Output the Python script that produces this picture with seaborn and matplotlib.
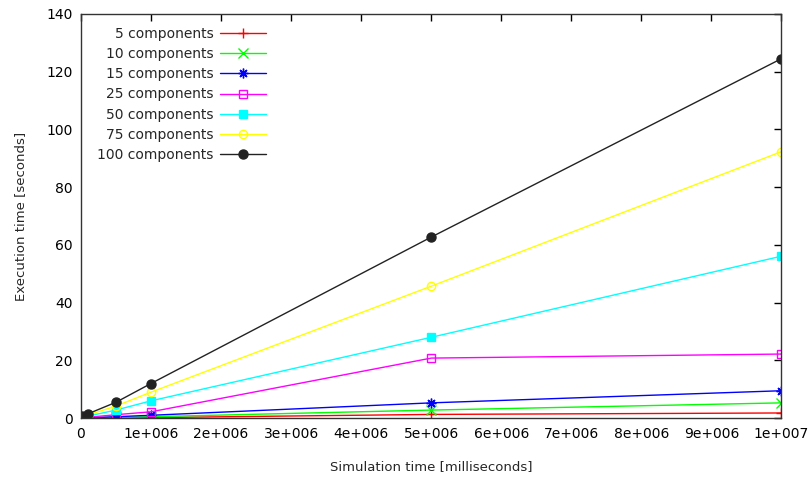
import matplotlib
matplotlib.use("Agg")
import matplotlib.pyplot as plt
import seaborn as sns
import pandas as pd
from matplotlib.ticker import FixedLocator

sim_time = [1e4, 1e5, 5e5, 1e6, 5e6, 1e7]
comp5 = [0.05, 0.05, 0.1, 0.2, 1.3, 1.8]
comp10 = [0.1, 0.1, 0.3, 0.5, 2.8, 5.3]
comp15 = [0.1, 0.15, 0.5, 1.0, 5.3, 9.5]
comp25 = [0.2, 0.3, 1.2, 2.2, 20.8, 22.2]
comp50 = [0.3, 0.7, 2.8, 6.0, 28.0, 56.1]
comp75 = [0.4, 1.1, 4.2, 9.0, 45.7, 92.3]
comp100 = [0.6, 1.5, 5.5, 12.0, 62.7, 124.5]

labels = ["5 components", "10 components", "15 components", "25 components",
          "50 components", "75 components", "100 components"]
series = [comp5, comp10, comp15, comp25, comp50, comp75, comp100]

x_ticks = [0, 1e6, 2e6, 3e6, 4e6, 5e6, 6e6, 7e6, 8e6, 9e6, 1e7]
x_tick_labels = ["0", "1e+006", "2e+006", "3e+006", "4e+006", "5e+006",
                 "6e+006", "7e+006", "8e+006", "9e+006", "1e+007"]
y_ticks = [0, 20, 40, 60, 80, 100, 120, 140]

rows = []
for lab, vals in zip(labels, series):
    for t, v in zip(sim_time, vals):
        rows.append({"sim": t, "exec": v, "series": lab})
df = pd.DataFrame(rows)

sns.set_style("white")
plt.rcParams["font.family"] = ["DejaVu Sans"]

colors = ["#ff0000", "#00ff00", "#0000ff", "#ff00ff", "#00ffff", "#ffff00", "#222222"]
markers = ["+", "x", (8, 2, 0), "s", "s", "o", "o"]
filled = [True, True, True, False, True, False, True]
msizes = [7, 7, 7, 6, 6, 6, 6.5]

fig = plt.figure(figsize=(8.09, 4.79), dpi=100)
ax = fig.add_axes([0.100, 0.127, 0.866, 0.844])

for lab, c, m, f, ms in zip(labels, colors, markers, filled, msizes):
    sub = df[df["series"] == lab]
    kw = dict(marker=m, markersize=ms, markeredgecolor=c, markeredgewidth=1.0)
    kw["markerfacecolor"] = c if f else "none"
    sns.lineplot(data=sub, x="sim", y="exec", ax=ax, color=c, linewidth=1.0,
                 label=lab, **kw)

ax.set_xlim(0, 1e7)
ax.set_ylim(0, 140)
ax.xaxis.set_major_locator(FixedLocator(x_ticks))
ax.set_xticklabels(x_tick_labels)
ax.yaxis.set_major_locator(FixedLocator(y_ticks))
ax.set_yticklabels([str(v) for v in y_ticks])
ax.tick_params(direction="in", length=5, width=1, top=True, right=True,
               labelsize=10, colors="black", pad=6)
for s in ax.spines.values():
    s.set_visible(True)
    s.set_color("#333333")
    s.set_linewidth(1.0)

ax.set_xlabel("Simulation time [milliseconds]", fontsize=9.5, labelpad=14)
ax.set_ylabel("Execution time [seconds]", fontsize=9.5, labelpad=14)

leg = ax.legend(loc="upper left", frameon=False, markerfirst=False, fontsize=10,
                handlelength=3.3, labelspacing=0.45, handletextpad=0.5,
                borderaxespad=0.0, bbox_to_anchor=(0.015, 0.982))

fig.savefig("out.png", dpi=100)
